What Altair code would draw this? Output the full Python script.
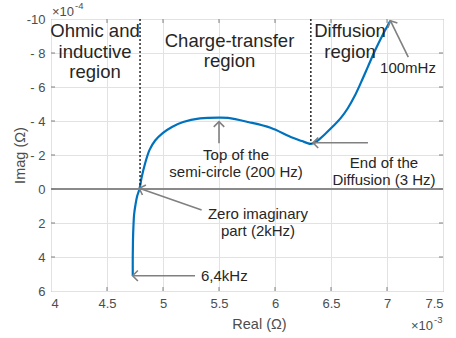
import math
import altair as alt
import pandas as pd

# ---------------- data (Real in 1e-3 Ohm, Imag in 1e-4 Ohm) ----------------
real_vals = [4.73, 4.73, 4.732, 4.736, 4.742, 4.755, 4.77, 4.79, 4.81, 4.84, 4.88,
             4.93, 5.0, 5.08, 5.18, 5.33, 5.5, 5.58, 5.76, 5.96, 6.14, 6.24, 6.29,
             6.32, 6.36, 6.40, 6.45, 6.52, 6.59, 6.65, 6.71, 6.77, 6.83, 6.89, 6.96, 7.03]
imag_vals = [5.1, 4.0, 3.0, 2.2, 1.5, 0.9, 0.4, 0.0, -0.7, -1.5, -2.3,
             -2.85, -3.3, -3.65, -3.94, -4.15, -4.2, -4.18, -3.94, -3.6, -3.06, -2.82, -2.7,
             -2.66, -2.75, -2.95, -3.25, -3.7, -4.2, -4.75, -5.45, -6.3, -7.2, -8.1, -9.05, -9.9]

x_ticks = [4, 4.5, 5, 5.5, 6, 6.5, 7, 7.5]
y_ticks = [-10, -8, -6, -4, -2, 0, 2, 4, 6]

# region separators (dotted): x, top, bottom
sep_x = [4.795, 6.32]
sep_top = [-10, -10]
sep_bottom = [0, -2.66]

# region titles (one row per line)
region_text = ["Ohmic and", "inductive", "region", "Charge-transfer", "region", "Diffusion", "region"]
region_x = [4.393, 4.393, 4.393, 5.594, 5.594, 6.67, 6.67]
region_y = [-8.94, -7.73, -6.53, -8.35, -7.15, -8.94, -7.73]

# annotation texts (centered)
note_text = ["100mHz", "Top of the", "semi-circle (200 Hz)", "Zero imaginary", "part (2kHz)",
             "End of the", "Diffusion (3 Hz)"]
note_x = [7.1875, 5.652, 5.652, 5.848, 5.848, 6.973, 6.973]
note_y = [-6.82, -1.68, -0.68, 1.77, 2.77, -1.24, -0.24]
# left-aligned annotation
left_text = ["6,4kHz"]
left_x = [5.339]
left_y = [5.41]

# arrows: tail -> tip
arrow_x1 = [7.19, 5.5, 6.83, 5.345, 5.286]
arrow_y1 = [-7.76, -2.69, -2.72, 1.235, 5.1]
arrow_x2 = [7.03, 5.5, 6.339, 4.788, 4.729]
arrow_y2 = [-9.9, -3.96, -2.72, -0.04, 5.1]

# ---------------- layout / style ----------------
W, H = 392, 272
XD = [4, 7.5]
YD = [-10, 6]
FONT = "Liberation Sans"
TXT = "#262626"
AXC = "#4d4d4d"
GRAY = "#808080"

xs = alt.Scale(domain=XD, nice=False, zero=False)
ys = alt.Scale(domain=YD, reverse=True, nice=False, zero=False)

X_AX = alt.Axis(
    values=x_ticks, format="~g", title="Real (Ω)", grid=True, gridColor="#e2e2e2",
    domain=False, ticks=False, tickSize=0, labelPadding=6, labelFontSize=13,
    labelFont=FONT, labelColor=AXC, titleFont=FONT, titleFontSize=14.5,
    titleFontWeight="normal", titleColor=AXC, titleX=208, titleY=33,
    titleBaseline="middle", titleAlign="center")
Y_AX = alt.Axis(
    values=y_ticks, title="Imag (Ω)", grid=True, gridColor="#e2e2e2",
    domain=False, ticks=False, tickSize=0, labelPadding=6, labelFontSize=13,
    labelFont=FONT, labelColor=AXC, titleFont=FONT, titleFontSize=14.5,
    titleFontWeight="normal", titleColor=AXC, titleX=-31, titleY=H / 2,
    titleAngle=270, titleBaseline="middle", titleAlign="center",
    labelExpr="datum.value == -10 ? '-10' : (datum.value < 0 ? '- ' + (-datum.value) : datum.label)")


def X(f):
    return alt.X(f, scale=xs, axis=X_AX)


def Y(f):
    return alt.Y(f, scale=ys, axis=Y_AX)


curve = pd.DataFrame({"re": real_vals, "im": imag_vals, "o": list(range(len(real_vals)))})

base = alt.Chart(curve).mark_line(color="#0072BD", strokeWidth=2.2,
                                  interpolate="catmull-rom").encode(
    x=X("re:Q"), y=Y("im:Q"), order="o:Q")

# inward ticks on all four sides
tx = pd.DataFrame({"v": x_ticks[1:-1]})
ty = pd.DataFrame({"v": y_ticks[1:-1]})
tick_b = alt.Chart(tx).mark_rule(color=GRAY, strokeWidth=1).encode(
    x=X("v:Q"), y=alt.value(H), y2=alt.value(H - 4))
tick_t = alt.Chart(tx).mark_rule(color=GRAY, strokeWidth=1).encode(
    x=X("v:Q"), y=alt.value(0), y2=alt.value(4))
tick_l = alt.Chart(ty).mark_rule(color=GRAY, strokeWidth=1).encode(
    y=Y("v:Q"), x=alt.value(0), x2=alt.value(4))
tick_r = alt.Chart(ty).mark_rule(color=GRAY, strokeWidth=1).encode(
    y=Y("v:Q"), x=alt.value(W), x2=alt.value(W - 4))

zero = alt.Chart(pd.DataFrame({"z": [0]})).mark_rule(color="#8a8a8a", strokeWidth=1.8).encode(
    y=Y("z:Q"), x=alt.value(0), x2=alt.value(W))

seps = alt.Chart(pd.DataFrame({"x": sep_x, "y1": sep_top, "y2": sep_bottom})).mark_rule(
    color="#1a1a1a", strokeWidth=1.4, strokeDash=[2, 2]).encode(
    x=X("x:Q"), y=Y("y1:Q"), y2="y2:Q")

regions = alt.Chart(pd.DataFrame({"t": region_text, "x": region_x, "y": region_y})).mark_text(
    font=FONT, fontSize=18.5, color=TXT, align="center", baseline="alphabetic").encode(
    x=X("x:Q"), y=Y("y:Q"), text="t:N")

notes = alt.Chart(pd.DataFrame({"t": note_text, "x": note_x, "y": note_y})).mark_text(
    font=FONT, fontSize=15, color=TXT, align="center", baseline="alphabetic").encode(
    x=X("x:Q"), y=Y("y:Q"), text="t:N")

lnotes = alt.Chart(pd.DataFrame({"t": left_text, "x": left_x, "y": left_y})).mark_text(
    font=FONT, fontSize=15, color=TXT, align="left", baseline="alphabetic").encode(
    x=X("x:Q"), y=Y("y:Q"), text="t:N")

px_x = W / (XD[1] - XD[0])
px_y = H / (YD[1] - YD[0])
angles = [math.degrees(math.atan2((b2 - b1) * px_y, (a2 - a1) * px_x)) % 360
          for a1, b1, a2, b2 in zip(arrow_x1, arrow_y1, arrow_x2, arrow_y2)]
arr = pd.DataFrame({"x1": arrow_x1, "y1": arrow_y1, "x2": arrow_x2, "y2": arrow_y2, "a": angles})

shafts = alt.Chart(arr).mark_rule(color=GRAY, strokeWidth=1.6).encode(
    x=X("x1:Q"), y=Y("y1:Q"), x2="x2:Q", y2="y2:Q")
heads = alt.Chart(arr).mark_point(
    shape="M-1,-1L0,0L-1,1", filled=False, color=GRAY, strokeWidth=1.6, size=110, opacity=1).encode(
    x=X("x2:Q"), y=Y("y2:Q"), angle=alt.Angle("a:Q", scale=None))

mult = pd.DataFrame({"d": [0]})
m4 = alt.Chart(mult).mark_text(font=FONT, fontSize=13, color=AXC, align="left",
                               baseline="alphabetic", text="×10").encode(
    x=alt.value(1), y=alt.value(-3))
m4s = alt.Chart(mult).mark_text(font=FONT, fontSize=9.5, color=AXC, align="left",
                                baseline="alphabetic", text="-4").encode(
    x=alt.value(24), y=alt.value(-10))
m3 = alt.Chart(mult).mark_text(font=FONT, fontSize=13, color=AXC, align="left",
                               baseline="alphabetic", text="×10").encode(
    x=alt.value(360), y=alt.value(H + 39))
m3s = alt.Chart(mult).mark_text(font=FONT, fontSize=9.5, color=AXC, align="left",
                                baseline="alphabetic", text="-3").encode(
    x=alt.value(383), y=alt.value(H + 32))

chart = alt.layer(
    base, zero, seps, tick_b, tick_t, tick_l, tick_r, shafts, heads,
    regions, notes, lnotes, m4, m4s, m3, m3s,
).properties(
    width=W, height=H,
    padding={"left": 51, "top": 19, "right": 13, "bottom": 47},
    autosize=alt.AutoSizeParams(type="none"),
    background="white",
).configure_view(stroke="#8f8f8f", strokeWidth=1)

chart.save("out.html", embed_options={"renderer": "svg", "actions": False})
